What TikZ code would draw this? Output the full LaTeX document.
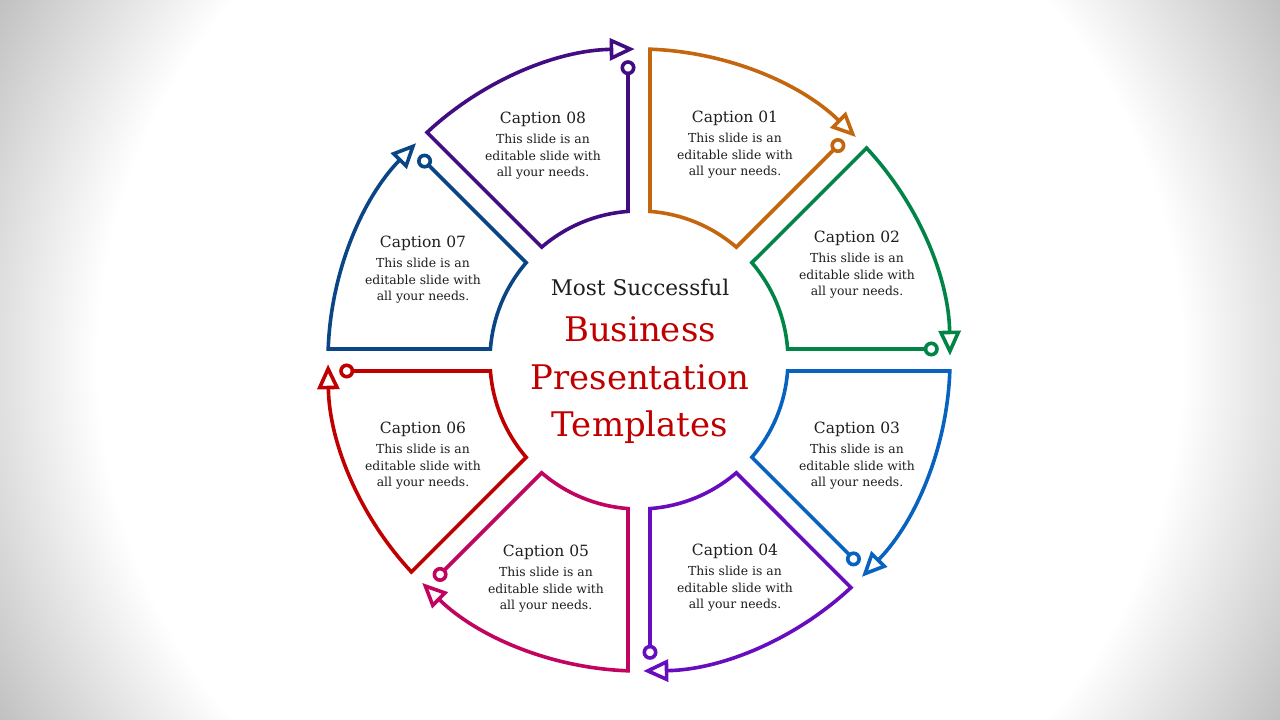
\documentclass[tikz,border=0pt]{standalone}
\usepackage{fontspec}
\setmainfont{DejaVu Serif}
\usetikzlibrary{arrows.meta}
\definecolor{bgcorner}{RGB}{190,190,190}
\definecolor{segone}{RGB}{196,102,14}
\definecolor{segtwo}{RGB}{0,133,70}
\definecolor{segthree}{RGB}{8,99,192}
\definecolor{segfour}{RGB}{104,12,192}
\definecolor{segfive}{RGB}{192,4,96}
\definecolor{segsix}{RGB}{192,0,0}
\definecolor{segseven}{RGB}{10,70,134}
\definecolor{segeight}{RGB}{66,12,130}
\definecolor{txtdark}{RGB}{30,30,30}
\definecolor{txtred}{RGB}{192,0,0}
\pgfdeclareradialshading{bgshade}{\pgfpoint{0bp}{0bp}}{color(0bp)=(white); color(540bp)=(white); color(740bp)=(bgcorner)}
\tikzset{
  seg/.style={line width=3.6pt, line join=miter, fill=none,
    {Circle[open,length=15pt,width=15pt]}-{Triangle[open,length=25pt,width=22pt]}},
  captitle/.style={anchor=base, inner sep=0pt, text=txtdark, font=\fontsize{15.5}{18}\selectfont},
  capbody/.style={anchor=base, inner sep=0pt, text=txtdark, font=\fontsize{12.4}{14}\selectfont},
  centerdark/.style={anchor=base, inner sep=0pt, text=txtdark, font=\fontsize{21.6}{24}\selectfont},
  centerred/.style={anchor=base, inner sep=0pt, text=txtred, font=\fontsize{33.9}{40}\selectfont}
}
\begin{document}
\begin{tikzpicture}[x=1pt,y=1pt]
\useasboundingbox (0,0) rectangle (1280,720);
\begin{scope}
  \clip (0,0) rectangle (1280,720);
  \node[inner sep=0pt] (bg) at (640,360) {\pgfuseshading{bgshade}};
\end{scope}
% segments
\begin{scope}[shift={(639,360)}]
\foreach \k/\col in {1/segone,2/segtwo,3/segthree,4/segfour,5/segfive,6/segsix,7/segseven,8/segeight}{
  \pgfmathsetmacro{\pa}{135-45*\k}
  \pgfmathsetmacro{\pb}{\pa-45}
  \draw[seg,draw=\col] (\pb+2.1:300) -- (\pb+4.23:149)
     arc[start angle=\pb+4.23, end angle=\pa-4.23, radius=149]
     -- (\pa-2.03:311)
     arc[start angle=\pa-2.03, end angle=\pb+0.8, radius=311];
}
\end{scope}
% center text
\node[centerdark] (ctA) at (640,424) {Most Successful};
\node[centerred] (ctB) at (640,378) {Business};
\node[centerred] (ctC) at (640,330) {Presentation};
\node[centerred] (ctD) at (640,283) {Templates};
% captions
\foreach \n/\x/\y in {01/735/123, 02/857/243, 03/857/434, 04/735/556, 05/546/557, 06/423/434, 07/423/248, 08/543/124}{
  \node[captitle] (cap\n) at (\x,720-\y) {Caption \n};
  \node[capbody] (capA\n) at (\x,720-\y-20) {This slide is an};
  \node[capbody] (capB\n) at (\x,720-\y-36.5) {editable slide with};
  \node[capbody] (capC\n) at (\x,720-\y-53) {all your needs.};
}
\end{tikzpicture}
\end{document}
